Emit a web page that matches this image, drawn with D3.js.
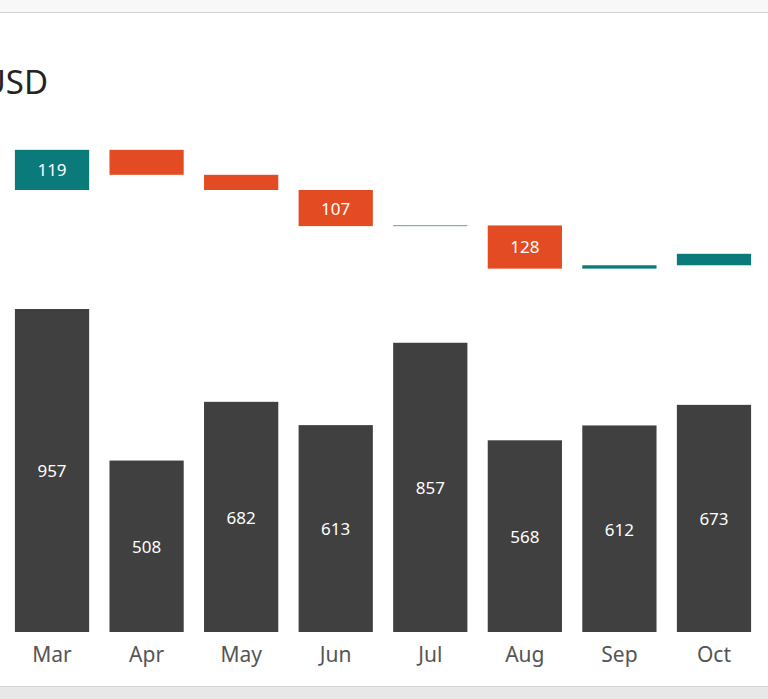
<!DOCTYPE html>
<html>
<head>
<meta charset="utf-8">
<script src="https://cdn.jsdelivr.net/npm/d3@7"></script>
<style>
  html, body { margin: 0; padding: 0; background: #fff; }
  svg { display: block; }
</style>
</head>
<body>
<svg id="chart"></svg>
<script>
const months = ["Mar", "Apr", "May", "Jun", "Jul", "Aug", "Sep", "Oct"]
const actuals = [957, 508, 682, 613, 857, 568, 612, 673]
const variances = [119, -74, -45, -107, 2, -128, 10, 34]

drawChart()

function drawChart() {
  const width = 768
  const height = 699

  const svg = d3.select('#chart')
    .attr('width', width)
    .attr('height', height)
    .style('font-family', "'Segoe UI', 'Noto Sans', sans-serif")

  // page frame: top strip and bottom strip
  svg.append('rect').attr('x', 0).attr('y', 0).attr('width', width).attr('height', 12).attr('fill', '#f8f8f8')
  svg.append('line').attr('x1', 0).attr('x2', width).attr('y1', 12.5).attr('y2', 12.5).attr('stroke', '#d2d2d2')
  svg.append('rect').attr('x', 0).attr('y', 687).attr('width', width).attr('height', 12).attr('fill', '#e8e8e8')
  svg.append('line').attr('x1', 0).attr('x2', width).attr('y1', 686.5).attr('y2', 686.5).attr('stroke', '#d6d6d6')

  svg.append('text')
    .attr('x', 48)
    .attr('y', 94)
    .attr('text-anchor', 'end')
    .attr('fill', '#252423')
    .style('font-size', '33px')
    .text('USD')

  const x = d3.scaleBand()
    .domain(months)
    .range([4.7, 761.3])
    .paddingInner(0.215)
    .paddingOuter(0.108)

  // shared value scale (pixels per unit equal for both parts)
  const k = 0.3375
  const baseY = 632
  const yBar = d3.scaleLinear().domain([0, 1000]).range([baseY, baseY - 1000 * k])

  const zeroY = 190
  const yVar = d3.scaleLinear().domain([0, -1000]).range([zeroY, zeroY + 1000 * k])

  // waterfall of variances
  let run = 0
  const steps = variances.map((v, i) => {
    const start = run
    run += v
    return { month: months[i], v, start, end: run }
  })

  const teal = '#0b7a7a'
  const orange = '#e34c22'

  const wf = svg.append('g')
  wf.selectAll('rect')
    .data(steps)
    .enter()
    .append('rect')
    .attr('x', d => x(d.month))
    .attr('width', x.bandwidth())
    .attr('y', d => yVar(Math.max(d.start, d.end)))
    .attr('height', d => Math.abs(yVar(d.start) - yVar(d.end)))
    .attr('fill', d => d.v >= 0 ? teal : orange)

  wf.selectAll('text')
    .data(steps.filter(d => Math.abs(d.v) >= 100))
    .enter()
    .append('text')
    .attr('x', d => x(d.month) + x.bandwidth() / 2)
    .attr('y', d => (yVar(d.start) + yVar(d.end)) / 2)
    .attr('dy', '0.38em')
    .attr('text-anchor', 'middle')
    .attr('fill', '#fff')
    .style('font-size', '17px')
    .text(d => Math.abs(d.v))

  // monthly actuals
  const bars = svg.append('g')
  bars.selectAll('rect')
    .data(actuals)
    .enter()
    .append('rect')
    .attr('x', (d, i) => x(months[i]))
    .attr('width', x.bandwidth())
    .attr('y', d => yBar(d))
    .attr('height', d => yBar(0) - yBar(d))
    .attr('fill', '#404040')

  bars.selectAll('text')
    .data(actuals)
    .enter()
    .append('text')
    .attr('x', (d, i) => x(months[i]) + x.bandwidth() / 2)
    .attr('y', d => (yBar(d) + yBar(0)) / 2)
    .attr('dy', '0.4em')
    .attr('text-anchor', 'middle')
    .attr('fill', '#fff')
    .style('font-size', '17px')
    .text(d => d)

  const axis = svg.append('g')
    .attr('transform', `translate(0,${baseY})`)
    .call(d3.axisBottom(x).tickSize(0).tickPadding(15))
  axis.select('.domain').remove()
  axis.selectAll('text')
    .attr('fill', '#555')
    .style('font-size', '21px')
    .style('font-family', "'Segoe UI', 'Noto Sans', sans-serif")
}
</script>
</body>
</html>
